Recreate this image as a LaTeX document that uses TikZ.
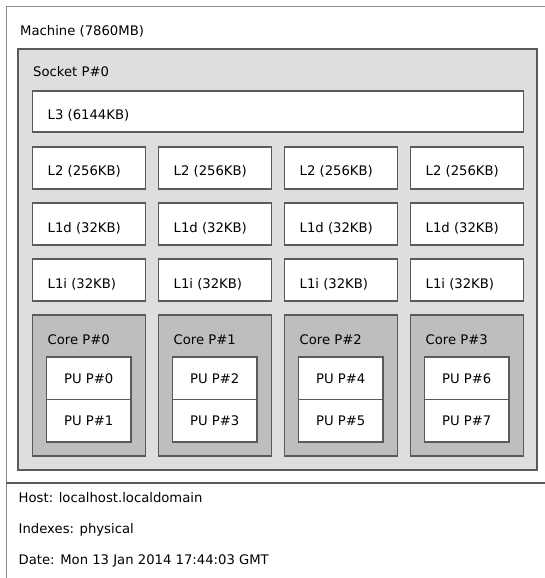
\documentclass[tikz,border=0pt]{standalone}
\usepackage{fontspec}
\setmainfont{DejaVu Sans}
\definecolor{boxline}{HTML}{5A5A5A}
\definecolor{framegray}{HTML}{8A8A8A}
\definecolor{sockfill}{HTML}{DEDEDE}
\definecolor{corefill}{HTML}{BEBEBE}
\begin{document}
\begin{tikzpicture}[x=1pt,y=-1pt,
  box/.style={draw=boxline, line width=1.3pt, anchor=north west, inner sep=0pt, outer sep=0pt},
  cachebox/.style={box, fill=white, minimum width=113pt, minimum height=42pt},
  corebox/.style={box, fill=corefill, minimum width=113pt, minimum height=141pt},
  pubox/.style={box, fill=white, minimum width=84.5pt, minimum height=42.5pt},
  lbl/.style={anchor=base west, inner sep=0pt, font=\fontsize{13.2}{15}\selectfont},
  pulbl/.style={anchor=base, inner sep=0pt, font=\fontsize{13.2}{15}\selectfont}]
\useasboundingbox (0,0) rectangle (545,578);
\fill[white] (0,0) rectangle (545,578);
% machine frame
\draw[framegray, line width=1pt] (6,578) -- (6,7) -- (545,7);
\draw[boxline, line width=1.4pt] (6,483) -- (545,483);
\node[lbl] (machine) at (20,36) {Machine (7860MB)};
% socket
\node[box, fill=sockfill, minimum width=519pt, minimum height=421pt] (socket) at (18,49) {};
\node[lbl] (socketlbl) at (33,76.5) {Socket P\#0};
% L3
\node[cachebox, minimum width=491pt, minimum height=41pt] (l3) at (32.5,91) {};
\node[lbl] (l3lbl) at (47.5,119) {L3 (6144KB)};
\foreach \i in {0,1,2,3}{
  \pgfmathsetmacro{\bx}{32.5+126*\i}
  \pgfmathsetmacro{\tx}{47.5+126*\i}
  \node[cachebox] (l2-\i) at (\bx,147) {};
  \node[lbl] (l2lbl-\i) at (\tx,175.5) {L2 (256KB)};
  \node[cachebox] (l1d-\i) at (\bx,203) {};
  \node[lbl] (l1dlbl-\i) at (\tx,232) {L1d (32KB)};
  \node[cachebox] (l1i-\i) at (\bx,259) {};
  \node[lbl] (l1ilbl-\i) at (\tx,288) {L1i (32KB)};
  \node[corebox] (core-\i) at (\bx,315) {};
  \node[lbl] (corelbl-\i) at (\tx,344) {Core P\#\i};
  \pgfmathsetmacro{\px}{46.5+126*\i}
  \pgfmathtruncatemacro{\pa}{2*\i}
  \pgfmathtruncatemacro{\pb}{2*\i+1}
  \node[pubox] (pua-\i) at (\px,357) {};
  \node[pubox] (pub-\i) at (\px,399.5) {};
  \node[pulbl] (pualbl-\i) at ([yshift=-4.8pt]pua-\i.center) {PU P\#\pa};
  \node[pulbl] (publbl-\i) at ([yshift=-4.8pt]pub-\i.center) {PU P\#\pb};
}
% legend
\node[lbl] (host) at (18.5,502) {Host: localhost.localdomain};
\node[lbl] (idx) at (18.5,533) {Indexes: physical};
\node[lbl] (date) at (18.5,564) {Date: Mon 13 Jan 2014 17:44:03 GMT};
\end{tikzpicture}
\end{document}
